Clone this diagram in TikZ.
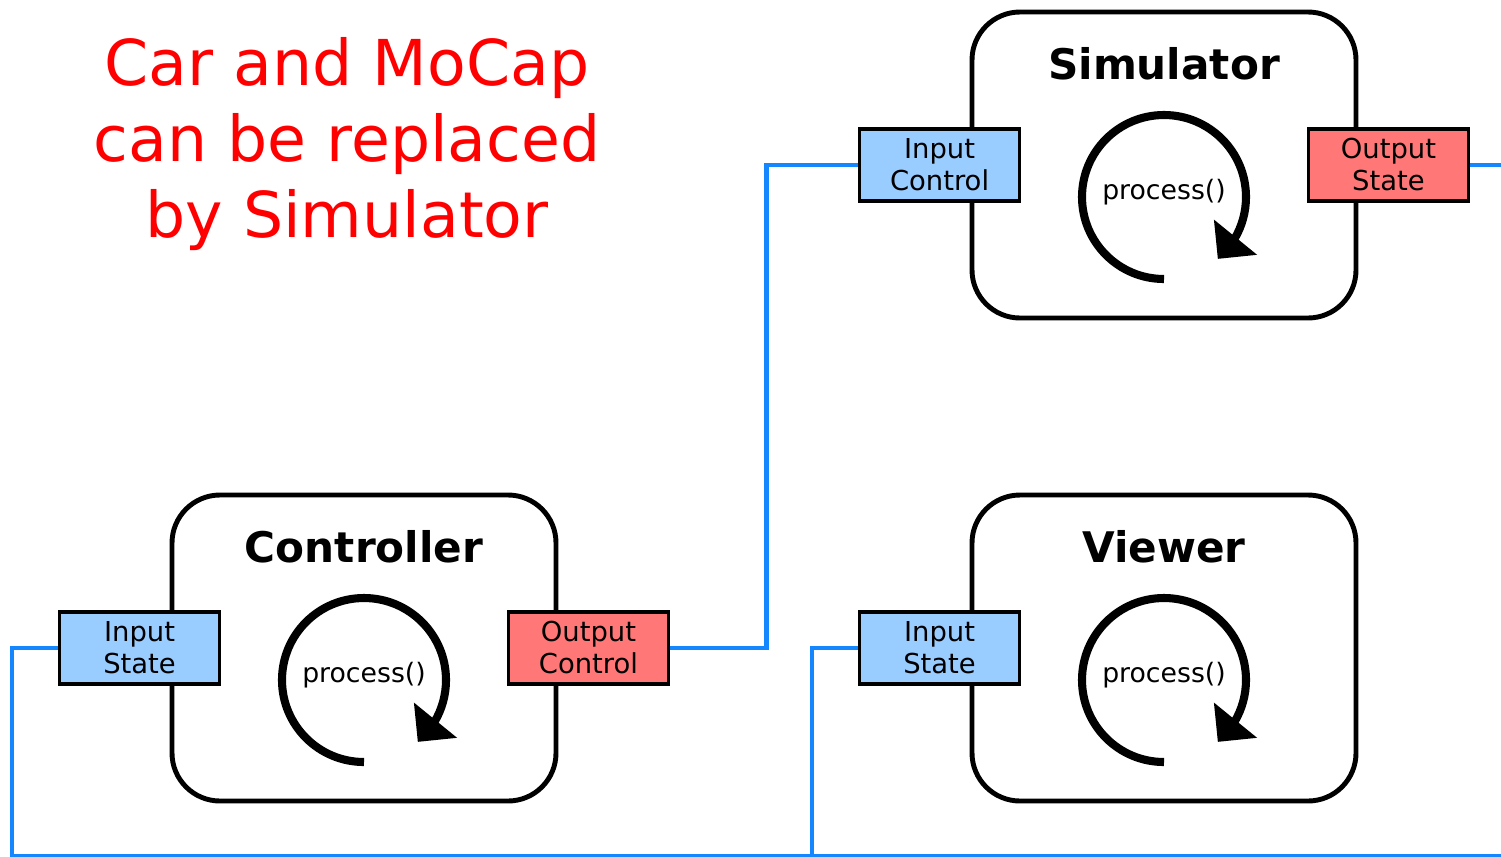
\documentclass[tikz,border=0pt]{standalone}
\usepackage{fontspec}
\setmainfont{DejaVu Sans}
\usetikzlibrary{arrows.meta, bending, positioning, calc}
\definecolor{wireblue}{RGB}{20,135,255}
\definecolor{portblue}{RGB}{153,204,255}
\definecolor{portred}{RGB}{255,119,119}

\begin{document}
\begin{tikzpicture}[x=1cm, y=1cm,
    unit/.style={draw, line width=1.4pt, rounded corners=0.48cm,
      minimum width=3.84cm, minimum height=3.06cm},
    ttl/.style={font=\fontsize{12}{14}\selectfont\bfseries},
    port/.style={draw, line width=1pt, minimum width=1.6cm,
      minimum height=0.72cm, inner sep=0pt, align=center,
      font=\fontsize{7.8}{9.1}\selectfont},
    inport/.style={port, fill=portblue},
    outport/.style={port, fill=portred},
    wire/.style={draw=wireblue, line width=1.4pt},
    spin/.style={line width=2.3pt, -{Triangle[length=0.28cm, width=0.54cm]}},
    lbl/.style={font=\fontsize{7.6}{9}\selectfont},
    note/.style={text=red, align=center, font=\fontsize{18}{21.5}\selectfont}]
  \useasboundingbox (0,0) rectangle (15.01,8.56);
  \node[note] (note) at (3.47,7.12) {Car and MoCap\\can be replaced\\by Simulator};
  % Simulator
  \node[unit] (sim) at (11.64,6.91) {};
  \node[ttl] (simT) at ([yshift=-0.54cm]sim.north) {Simulator};
  \node[inport] (simIn) at ([xshift=-0.3cm]sim.west) {Input\\Control};
  \node[outport] (simOut) at ([xshift=0.3cm]sim.east) {Output\\State};
  \coordinate (simC) at ([yshift=-0.32cm]sim.center);
  \draw[spin] ([yshift=-0.82cm]simC) arc[start angle=-90, end angle=-409, radius=0.82cm];
  \node[lbl] (simP) at ([yshift=0.05cm]simC) {process()};
  % Controller
  \node[unit] (ctl) at (3.64,2.08) {};
  \node[ttl] (ctlT) at ([yshift=-0.54cm]ctl.north) {Controller};
  \node[inport] (ctlIn) at ([xshift=-0.3cm]ctl.west) {Input\\State};
  \node[outport] (ctlOut) at ([xshift=0.3cm]ctl.east) {Output\\Control};
  \coordinate (ctlC) at ([yshift=-0.32cm]ctl.center);
  \draw[spin] ([yshift=-0.82cm]ctlC) arc[start angle=-90, end angle=-409, radius=0.82cm];
  \node[lbl] (ctlP) at ([yshift=0.05cm]ctlC) {process()};
  % Viewer
  \node[unit] (vwr) at (11.64,2.08) {};
  \node[ttl] (vwrT) at ([yshift=-0.54cm]vwr.north) {Viewer};
  \node[inport] (vwrIn) at ([xshift=-0.3cm]vwr.west) {Input\\State};
  \coordinate (vwrC) at ([yshift=-0.32cm]vwr.center);
  \draw[spin] ([yshift=-0.82cm]vwrC) arc[start angle=-90, end angle=-409, radius=0.82cm];
  \node[lbl] (vwrP) at ([yshift=0.05cm]vwrC) {process()};
  % wiring, the bus runs along the bottom edge
  \coordinate (busL) at (0.12,0.0);
  \coordinate (busV) at (8.12,0.0);
  \coordinate (busR) at (15.2,0.0);
  \coordinate (simOutEnd) at (15.2,6.91);
  \draw[wire] (ctlOut.east) -- ([xshift=0.96cm]ctlOut.east) |- (simIn.west);
  \draw[wire] (simOut.east) -- (simOutEnd);
  \draw[wire] (ctlIn.west) -| (busL) -- (busR);
  \draw[wire] (vwrIn.west) -| (busV);
\end{tikzpicture}
\end{document}
